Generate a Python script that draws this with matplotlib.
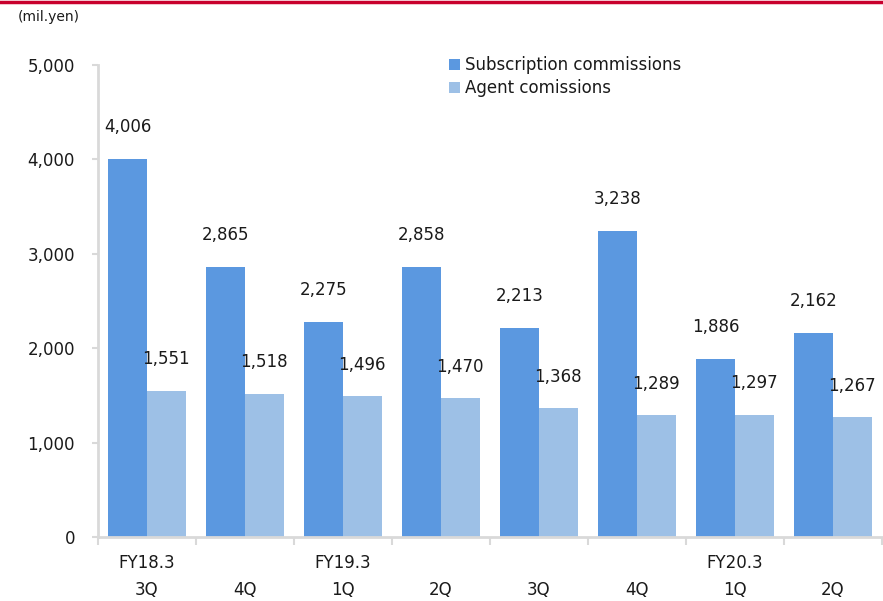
import matplotlib
matplotlib.use("Agg")
import matplotlib.pyplot as plt
import matplotlib.transforms as mtransforms
import numpy as np

quarters = ["3Q", "4Q", "1Q", "2Q", "3Q", "4Q", "1Q", "2Q"]
fiscal_years = ["FY18.3", "", "FY19.3", "", "", "", "FY20.3", ""]
subscription = [4006, 2865, 2275, 2858, 2213, 3238, 1886, 2162]
agent = [1551, 1518, 1496, 1470, 1368, 1289, 1297, 1267]
series_names = ["Subscription commissions", "Agent comissions"]
yticks = [0, 1000, 2000, 3000, 4000, 5000]

plt.rcParams['font.family'] = ['DejaVu Sans']

fig = plt.figure(figsize=(8.83, 6.01), dpi=100)
ax = fig.add_axes([98/883, 1-537/601, 784/883, (537-65)/601])

x = np.arange(len(quarters))
w = 0.395
c1 = "#5B98E0"
c2 = "#9DC0E6"
txt = "#1a1a1a"
ax.bar(x - w/2, subscription, w, color=c1, label=series_names[0])
ax.bar(x + w/2, agent, w, color=c2, label=series_names[1])

for xi, v in zip(x, subscription):
    ax.annotate(f"{v:,}", (xi - w/2, v), xytext=(0, 23), textcoords="offset points",
                ha="center", va="center", fontsize=12, color=txt)
for xi, v in zip(x, agent):
    ax.annotate(f"{v:,}", (xi + w/2, v), xytext=(0, 22.5), textcoords="offset points",
                ha="center", va="center", fontsize=12, color=txt)

ax.set_xlim(-0.5, len(quarters) - 0.5)
ax.set_ylim(0, 5000)
ax.set_yticks(yticks)
ax.set_yticklabels([f"{t:,}" for t in yticks], fontsize=12, color=txt)
ax.tick_params(axis='y', length=4, width=1.5, color="#D9D9D9", pad=12.5)

ax.set_xticks(x)
ax.set_xticklabels(fiscal_years, fontsize=12, color=txt)
ax.tick_params(axis='x', length=0, pad=12)
ax.set_xticks(np.arange(-0.5, len(quarters), 1.0), minor=True)
ax.tick_params(axis='x', which='minor', length=6, width=1.5, color="#D9D9D9")

trans = mtransforms.blended_transform_factory(ax.transData, fig.transFigure)
for xi, q in zip(x, quarters):
    ax.text(xi, 1-599/601, q, transform=trans, ha="center", va="bottom",
            fontsize=12, color=txt, clip_on=False)

for s in ["top", "right"]:
    ax.spines[s].set_visible(False)
for s in ["left", "bottom"]:
    ax.spines[s].set_color("#D9D9D9")
    ax.spines[s].set_linewidth(2)

leg = ax.legend(loc="upper left", bbox_to_anchor=(0.429, 1.05), frameon=False, fontsize=12,
                handlelength=0.65, handleheight=0.65, handletextpad=0.3, labelspacing=0.3)
for t in leg.get_texts():
    t.set_color(txt)

fig.text(18/883, 1-17/601, "(mil.yen)", fontsize=10, va="center", ha="left", color=txt)
fig.add_artist(plt.Line2D([0, 1], [1-1.5/601, 1-1.5/601], color="#C8002D", linewidth=2.5,
                          transform=fig.transFigure))

fig.savefig("out.png", dpi=100)
